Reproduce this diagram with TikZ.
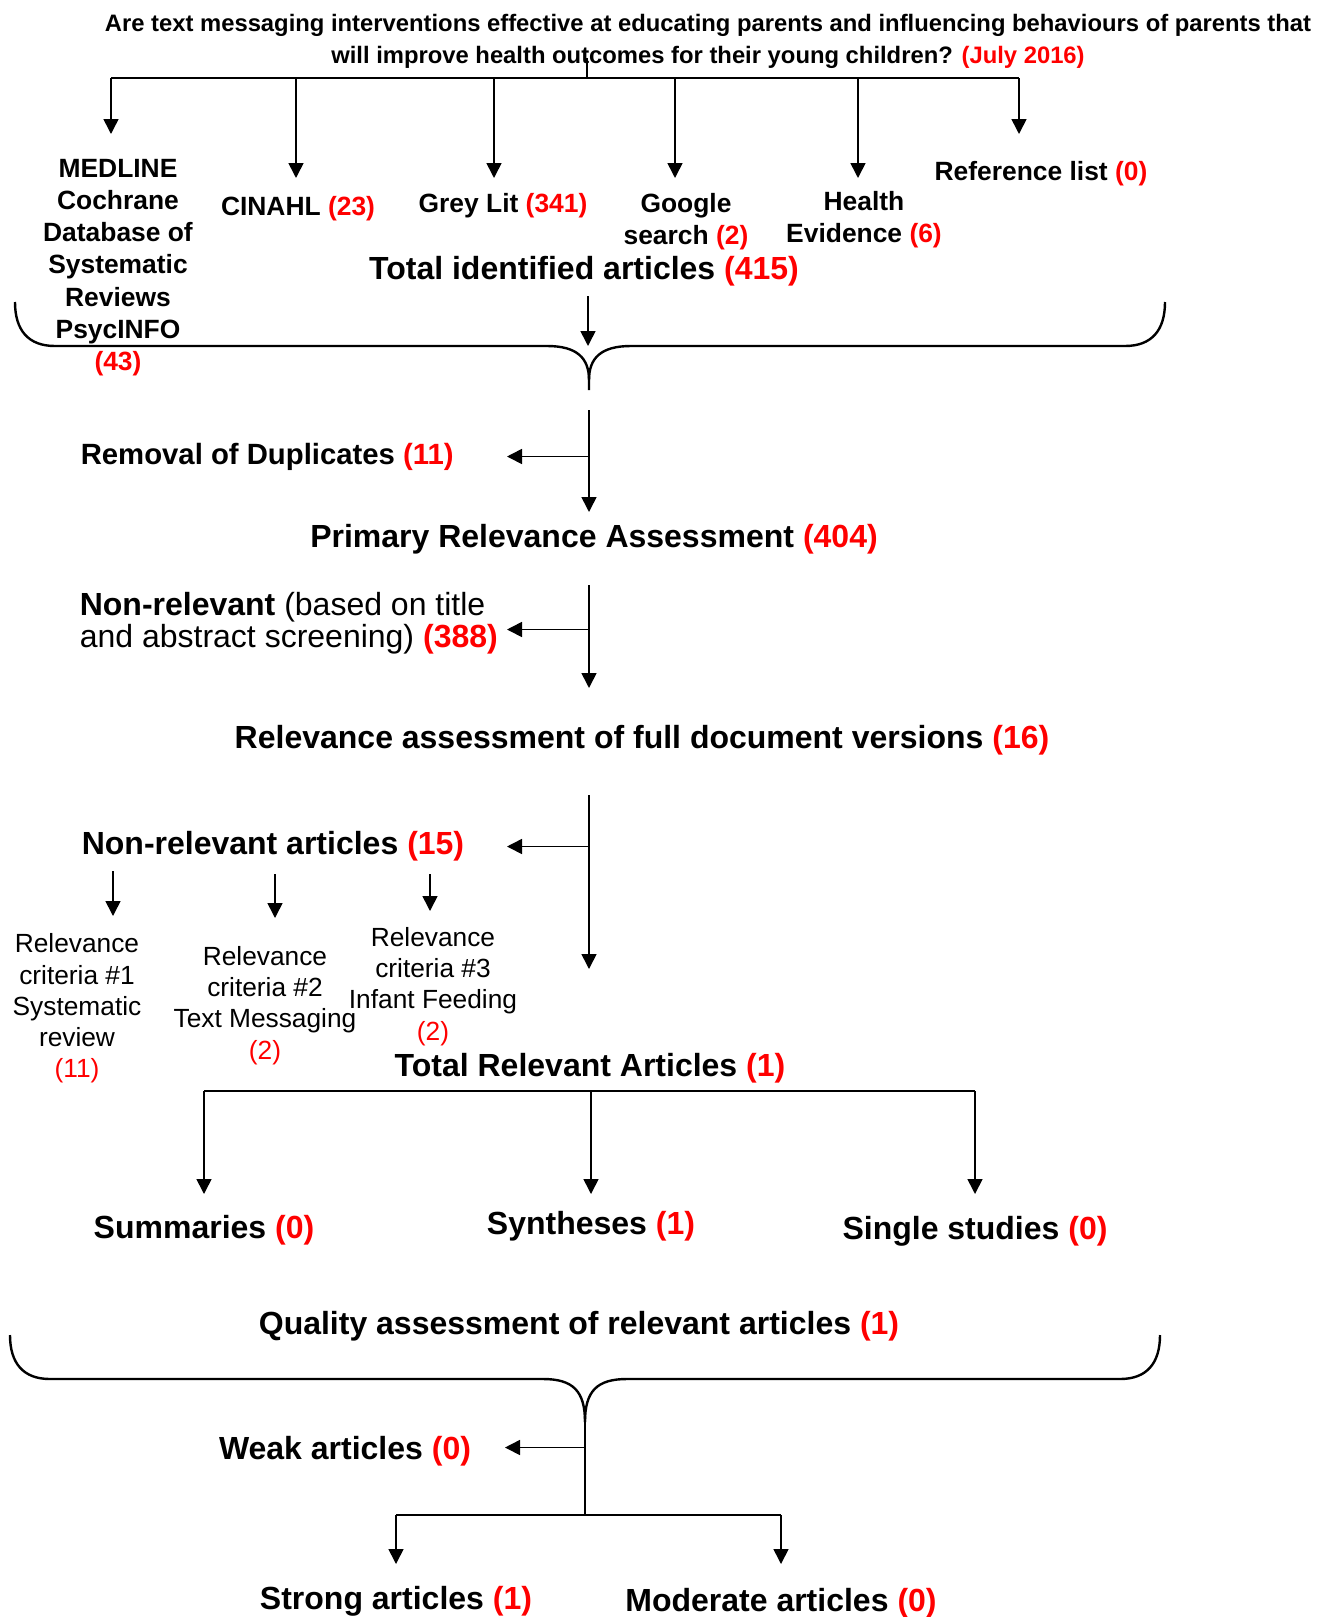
\documentclass[tikz,border=0pt]{standalone}
\usepackage{fontspec}
\setmainfont{Liberation Sans}
\usetikzlibrary{arrows.meta}
\definecolor{numred}{RGB}{255,0,0}
\newcommand{\cnt}[1]{\textcolor{numred}{(#1)}}

\begin{document}
\begin{tikzpicture}[x=1pt,y=-1pt,>={Triangle[length=15pt,width=15pt]},
  line width=1.6pt,
  txt/.style={inner sep=0pt,yshift=-3.5pt,font=\fontsize{32}{32}\selectfont\bfseries},
  src/.style={inner sep=0pt,yshift=-3.5pt,align=center,font=\fontsize{26.4}{32.2}\selectfont\bfseries},
  crit/.style={inner sep=0pt,yshift=-3.5pt,align=center,font=\fontsize{26.3}{31.2}\selectfont},
  bus/.style={line width=2.6pt},
  brace/.style={line width=2.4pt}]
  \useasboundingbox (0,0) rectangle (1329,1617);

  % question and sources
  \node[inner sep=0pt,yshift=-2pt,align=center,font=\fontsize{23.8}{32}\selectfont\bfseries] (title) at (708,39)
    {Are text messaging interventions effective at educating parents and influencing behaviours of parents that\\
     will improve health outcomes for their young children? \cnt{July 2016}};
  \node[src] (medline) at (118,264) {MEDLINE\\ Cochrane\\ Database of\\ Systematic\\ Reviews\\ PsycINFO\\ \cnt{43}};
  \node[src] (cinahl) at (298,205) {CINAHL \cnt{23}};
  \node[src] (greylit) at (503,202) {Grey Lit \cnt{341}};
  \node[src] (google) at (686,218) {Google\\ search \cnt{2}};
  \node[src] (health) at (864,216) {Health\\ Evidence \cnt{6}};
  \node[src] (reflist) at (1041,170) {Reference list \cnt{0}};
  \node[txt] (identified) at (584,268) {Total identified articles \cnt{415}};

  \coordinate (split) at (587,78);
  \draw ([yshift=11pt]title.south -| split) -- (split);
  \foreach \nm/\x/\y in {medline/111/134,cinahl/296/178,greylit/494/178,google/675/178,health/858/178,reflist/1019/134}{
    \coordinate (\nm-in) at (\x,\y);
    \draw[->] (\nm-in |- split) -- (\nm-in);
  }
  \draw[bus] (medline-in |- split) -- (reflist-in |- split);

  % first brace
  \coordinate (b1) at (589,380);
  \draw[->] ([yshift=-9pt]identified.south -| 588,0) -- (588,346);
  \draw[brace] (15,302) .. controls (15,330) and (28,346) .. (55,346) -- (547,346)
    .. controls (577,346) and (589,358) .. (b1) -- (589,390);
  \draw[brace] (1165,302) .. controls (1165,330) and (1152,346) .. (1125,346) -- (631,346)
    .. controls (601,346) and (589,358) .. (b1);

  % screening
  \node[txt,anchor=west,font=\fontsize{29.3}{32}\selectfont\bfseries] (dupl) at (80,453) {Removal of Duplicates \cnt{11}};
  \node[txt] (primary) at (594,536) {Primary Relevance Assessment \cnt{404}};
  \node[txt,anchor=west,align=left,font=\fontsize{32}{32}\selectfont] (nonrel) at (79,620)
    {\textbf{Non-relevant} (based on title\\ and abstract screening) \textbf{\cnt{388}}};
  \node[txt] (fulldoc) at (642,737) {Relevance assessment of full document versions \cnt{16}};
  \node[txt,anchor=west] (nonrelart) at (81,843) {Non-relevant articles \cnt{15}};

  \coordinate (s1a) at (589,410); \coordinate (s1b) at (589,512);
  \coordinate (s2a) at (589,585); \coordinate (s2b) at (589,688);
  \coordinate (s3a) at (589,795); \coordinate (s3b) at (589,969);
  \draw[->] (s1a) -- (s1b);
  \draw[->] (s1a |- dupl.east) -- ++(-82,0);
  \draw[->] ([yshift=-6pt]s2a |- nonrel.east) -- ++(-82,0);
  \draw[->] (s2a) -- (s2b);
  \draw[->] (s3a) -- (s3b);
  \draw[->] (s3a |- nonrelart.east) -- ++(-82,0);

  % exclusion criteria
  \node[crit] (crit1) at (77,1005) {Relevance\\ criteria \#1\\ Systematic\\ review\\ \cnt{11}};
  \node[crit] (crit2) at (265,1002) {Relevance\\ criteria \#2\\ Text Messaging\\ \cnt{2}};
  \node[crit] (crit3) at (433,983) {Relevance\\ criteria \#3\\ Infant Feeding\\ \cnt{2}};
  \draw[->] (113,871) -- (113,916);
  \draw[->] (275,874) -- (275,918);
  \draw[->] (430,874) -- (430,911);

  % relevant articles by type
  \node[txt] (totalrel) at (590,1065) {Total Relevant Articles \cnt{1}};
  \node[txt] (summ) at (204,1227) {Summaries \cnt{0}};
  \node[txt] (synth) at (591,1223) {Syntheses \cnt{1}};
  \node[txt] (single) at (975,1228) {Single studies \cnt{0}};
  \coordinate (tb) at (591,1091);
  \coordinate (tt) at (591,1194);
  \draw[bus] (summ |- tb) -- (single |- tb);
  \foreach \nm in {summ,synth,single}
    \draw[->] (\nm |- tb) -- (\nm |- tt);

  % quality
  \node[txt] (quality) at (579,1323) {Quality assessment of relevant articles \cnt{1}};
  \coordinate (b2) at (585,1422);
  \draw[brace] (10,1335) .. controls (10,1363) and (23,1379) .. (50,1379) -- (543,1379)
    .. controls (573,1379) and (585,1391) .. (b2);
  \draw[brace] (1160,1335) .. controls (1160,1363) and (1147,1379) .. (1120,1379) -- (627,1379)
    .. controls (597,1379) and (585,1391) .. (b2);

  \node[txt] (weak) at (345,1448) {Weak articles \cnt{0}};
  \node[txt] (strong) at (396,1598) {Strong articles \cnt{1}};
  \node[txt] (moderate) at (781,1600) {Moderate articles \cnt{0}};
  \coordinate (qb) at (585,1515);
  \coordinate (qt) at (585,1564);
  \draw (b2) -- (qb);
  \draw[->] ([yshift=4pt]b2 |- weak.east) -- ++(-80,0);
  \draw[bus] (strong |- qb) -- (moderate |- qb);
  \draw[->] (strong |- qb) -- (strong |- qt);
  \draw[->] (moderate |- qb) -- (moderate |- qt);
\end{tikzpicture}
\end{document}
